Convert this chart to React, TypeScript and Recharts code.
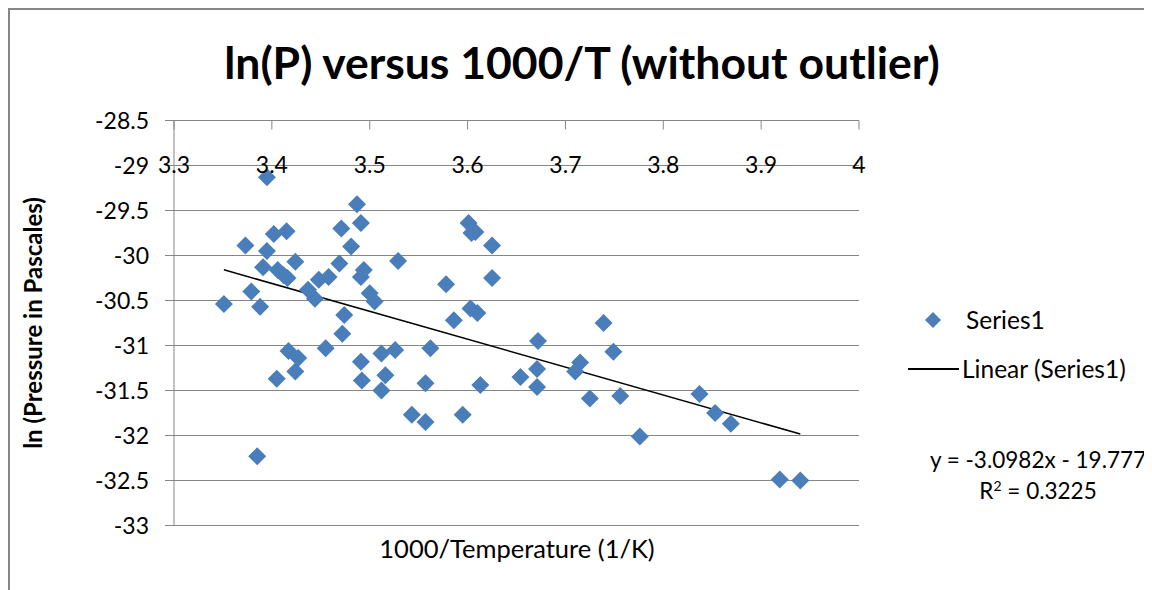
import {
  ScatterChart,
  Scatter,
  XAxis,
  YAxis,
  CartesianGrid,
  ReferenceLine,
  Legend,
} from "recharts";

// 1000/T values
const invTemp = [
  3.351, 3.373, 3.379, 3.385, 3.388, 3.391, 3.395, 3.395, 3.402, 3.406, 3.405,
  3.412, 3.415, 3.416, 3.417, 3.424, 3.424, 3.427, 3.437, 3.444, 3.448,
  3.455, 3.458, 3.469, 3.471, 3.472, 3.474, 3.481, 3.487, 3.491, 3.494, 3.491,
  3.491, 3.492, 3.5, 3.505, 3.512, 3.512, 3.516, 3.526, 3.529, 3.543,
  3.557, 3.557, 3.562, 3.578, 3.586, 3.595, 3.601, 3.604, 3.608, 3.603, 3.61,
  3.613, 3.625, 3.625, 3.654, 3.671, 3.671, 3.672, 3.71, 3.715, 3.725, 3.739,
  3.749, 3.756, 3.776, 3.837, 3.853, 3.869, 3.919, 3.94,
];

// ln(P) values, same order
const lnP = [
  -30.54, -29.89, -30.4, -32.23, -30.57, -30.13, -29.13, -29.95, -29.76, -30.16,
  -31.37, -30.22, -29.73, -30.25, -31.06, -31.29, -30.07, -31.14, -30.38, -30.48,
  -30.27,
  -31.03, -30.24, -30.09, -29.7, -30.87, -30.66, -29.9, -29.43, -29.64, -30.16,
  -30.24, -31.18, -31.39, -30.42, -30.51, -31.09, -31.5, -31.33, -31.05, -30.06,
  -31.77,
  -31.42, -31.85, -31.03, -30.32, -30.72, -31.77, -29.64, -29.75, -29.74, -30.59,
  -30.64, -31.44, -29.89, -30.25, -31.35, -31.26, -31.46, -30.95, -31.29, -31.19,
  -31.59, -30.75, -31.07, -31.56, -32.01, -31.54, -31.75, -31.87, -32.49, -32.5,
];

const xTicks = [3.3, 3.4, 3.5, 3.6, 3.7, 3.8, 3.9, 4];
const yTicks = [-33, -32.5, -32, -31.5, -31, -30.5, -30, -29.5, -29, -28.5];

// trendline shown on the chart
const SLOPE = -3.0982;
const INTERCEPT = -19.777;
const R2 = 0.3225;

const points = invTemp.map((x, i) => ({ x, y: lnP[i] }));
const xMin = Math.min(...invTemp);
const xMax = Math.max(...invTemp);

const FONT = "Lato, 'Open Sans', sans-serif";
const BLUE = "#4A7EBB";
const GRID = "#868686";

const Diamond = (props: any) => {
  const { cx, cy } = props;
  const r = 9;
  return (
    <polygon
      points={`${cx},${cy - r} ${cx + r},${cy} ${cx},${cy + r} ${cx - r},${cy}`}
      fill={BLUE}
    />
  );
};

const XTick = (props: any) => {
  const { x, y, payload } = props;
  return (
    <g>
      <line x1={x} x2={x} y1={y} y2={y + 9} stroke={GRID} />
      <text
        x={x}
        y={y + 52}
        textAnchor="middle"
        fontSize={23}
        fontFamily={FONT}
        fill="#000"
      >
        {payload.value}
      </text>
    </g>
  );
};

const LegendBox = () => (
  <div style={{ position: "relative", width: 250, height: 90, fontFamily: FONT, fontSize: 24.5 }}>
    <svg width={60} height={90} style={{ position: "absolute", left: 0, top: 0 }}>
      <polygon points="25,7 33,15 25,23 17,15" fill={BLUE} />
      <line x1={0} x2={51} y1={64} y2={64} stroke="#000" strokeWidth={2} />
    </svg>
    <div style={{ position: "absolute", left: 58, top: 0, lineHeight: "30px" }}>Series1</div>
    <div style={{ position: "absolute", left: 54, top: 49, lineHeight: "30px", whiteSpace: "nowrap" }}>
      Linear (Series1)
    </div>
  </div>
);

export default function App() {
  return (
    <div
      style={{
        position: "relative",
        width: 1160,
        height: 600,
        border: `2px solid ${GRID}`,
        boxSizing: "border-box",
        background: "#fff",
      }}
    >
      <div
        style={{
          position: "absolute",
          left: 172,
          top: 30,
          width: 800,
          textAlign: "center",
          fontFamily: FONT,
          fontWeight: "bold",
          fontSize: 44.5,
          lineHeight: "44px",
          color: "#000",
          whiteSpace: "nowrap",
        }}
      >
        ln(P) versus 1000/T (without outlier)
      </div>

      <ScatterChart
        width={1142}
        height={580}
        margin={{ top: 80.5, right: 293, bottom: 64.5, left: 84 }}
      >
        <CartesianGrid horizontal vertical={false} stroke={GRID} />
        <XAxis
          type="number"
          dataKey="x"
          orientation="top"
          height={30}
          domain={[3.3, 4]}
          ticks={xTicks}
          interval={0}
          tickSize={0}
          tickMargin={0}
          tickLine={false}
          axisLine={{ stroke: GRID }}
          tick={<XTick />}
        />
        <YAxis
          type="number"
          dataKey="y"
          width={80}
          domain={[-33, -28.5]}
          ticks={yTicks}
          interval={0}
          tickSize={9}
          tickMargin={16}
          tickLine={{ stroke: GRID }}
          axisLine={{ stroke: GRID }}
          tick={{ fontSize: 23, fontFamily: FONT, fill: "#000" }}
          label={{
            value: "ln (Pressure in Pascales)",
            angle: -90,
            position: "insideLeft",
            offset: -61,
            style: {
              textAnchor: "middle",
              fontWeight: "bold",
              fontSize: 24,
              fontFamily: FONT,
              fill: "#000",
            },
          }}
        />
        <Scatter
          name="Series1"
          data={points}
          shape={<Diamond />}
          isAnimationActive={false}
        />
        <ReferenceLine
          segment={[
            { x: xMin, y: SLOPE * xMin + INTERCEPT },
            { x: xMax, y: SLOPE * xMax + INTERCEPT },
          ]}
          stroke="#000"
          strokeWidth={1.5}
          ifOverflow="visible"
        />
        <Legend
          layout="horizontal"
          verticalAlign="middle"
          align="center"
          content={<LegendBox />}
          wrapperStyle={{ left: 898, top: 295, width: 250 }}
        />
      </ScatterChart>

      <div
        style={{
          position: "absolute",
          left: 507 - 200,
          top: 523,
          width: 400,
          textAlign: "center",
          fontFamily: FONT,
          fontSize: 25.5,
          lineHeight: "30px",
          color: "#000",
        }}
      >
        1000/Temperature (1/K)
      </div>

      <div
        style={{
          position: "absolute",
          left: 1028 - 150,
          top: 434,
          width: 300,
          textAlign: "center",
          fontFamily: FONT,
          fontSize: 22.5,
          lineHeight: "31px",
          color: "#000",
        }}
      >
        <div>y = {SLOPE}x - {Math.abs(INTERCEPT)}</div>
        <div>
          R<sup style={{ fontSize: 14, lineHeight: 0 }}>2</sup> = {R2}
        </div>
      </div>
    </div>
  );
}
